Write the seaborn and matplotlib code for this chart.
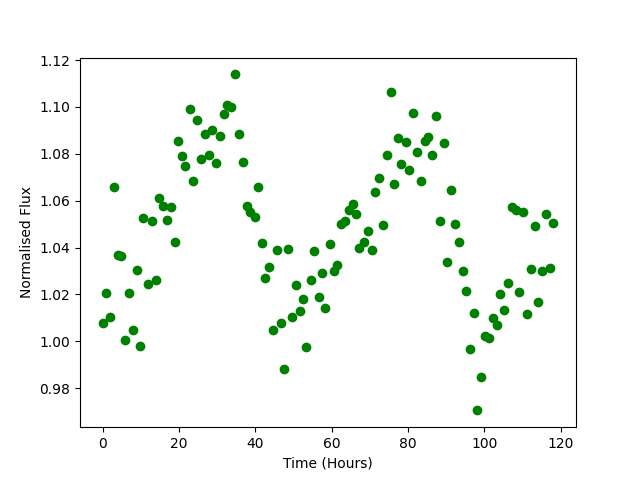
import matplotlib
matplotlib.use("Agg")
import matplotlib.pyplot as plt
import seaborn as sns
import pandas as pd

time_hours = [
    0.0, 0.9, 1.9, 3.0, 4.0, 4.9, 5.8, 6.8, 8.0, 8.9,
    9.8, 10.7, 11.9, 12.9, 14.0, 14.8, 15.8, 16.9, 17.8, 19.0,
    19.7, 20.8, 21.7, 22.9, 23.7, 24.7, 25.8, 26.8, 27.8, 28.6,
    29.7, 30.7, 31.8, 32.7, 33.7, 34.7, 35.7, 36.8, 37.8, 38.6,
    39.8, 40.7, 41.7, 42.5, 43.5, 44.6, 45.6, 46.8, 47.5, 48.5,
    49.6, 50.6, 51.7, 52.5, 53.4, 54.6, 55.5, 56.6, 57.4, 58.2,
    59.6, 60.6, 61.5, 62.4, 63.5, 64.5, 65.5, 66.5, 67.3, 68.5,
    69.5, 70.6, 71.3, 72.4, 73.4, 74.5, 75.5, 76.3, 77.3, 78.3,
    79.5, 80.2, 81.4, 82.3, 83.4, 84.4, 85.2, 86.3, 87.3, 88.4,
    89.4, 90.2, 91.25, 92.3, 93.3, 94.4, 95.1, 96.2, 97.2, 98.2,
    99.0, 100.1, 101.2, 102.3, 103.3, 104.0, 105.1, 106.2, 107.2, 108.4,
    109.1, 110.1, 111.2, 112.2, 113.3, 114.0, 115.0, 116.1, 117.2, 118.1,
]

normalised_flux = [
    1.0080, 1.0205, 1.0103, 1.0659, 1.0370, 1.0365, 1.0006, 1.0205, 1.0048, 1.0305,
    0.9980, 1.0527, 1.0244, 1.0515, 1.0262, 1.0613, 1.0579, 1.0519, 1.0575, 1.0425,
    1.0856, 1.0789, 1.0749, 1.0990, 1.0682, 1.0946, 1.0779, 1.0886, 1.0793, 1.0900,
    1.0762, 1.0875, 1.0972, 1.1007, 1.1002, 1.1139, 1.0883, 1.0766, 1.0579, 1.0550,
    1.0531, 1.0660, 1.0420, 1.0271, 1.0318, 1.0048, 1.0391, 1.0080, 0.9881, 1.0395,
    1.0104, 1.0240, 1.0128, 1.0180, 0.9976, 1.0262, 1.0387, 1.0190, 1.0292, 1.0141,
    1.0415, 1.0300, 1.0325, 1.0501, 1.0512, 1.0562, 1.0588, 1.0544, 1.0398, 1.0424,
    1.0471, 1.0390, 1.0635, 1.0695, 1.0497, 1.0793, 1.1063, 1.0673, 1.0866, 1.0755,
    1.0852, 1.0732, 1.0976, 1.0809, 1.0685, 1.0853, 1.0870, 1.0793, 1.0960, 1.0515,
    1.0848, 1.0339, 1.0646, 1.0501, 1.0424, 1.0301, 1.0215, 0.9966, 1.0120, 0.9705,
    0.9847, 1.0023, 1.0013, 1.0100, 1.0070, 1.0202, 1.0133, 1.0248, 1.0572, 1.0562,
    1.0210, 1.0553, 1.0117, 1.0308, 1.0492, 1.0169, 1.0298, 1.0544, 1.0314, 1.0506,
]

df = pd.DataFrame({"Time (Hours)": time_hours, "Normalised Flux": normalised_flux})

fig, ax = plt.subplots(figsize=(6.4, 4.8), dpi=100)
sns.scatterplot(data=df, x="Time (Hours)", y="Normalised Flux", ax=ax,
                color="green", edgecolor="green", linewidth=1, s=36, zorder=2)
ax.set_xlabel("Time (Hours)")
ax.set_ylabel("Normalised Flux")
fig.savefig("out.png", dpi=100)
